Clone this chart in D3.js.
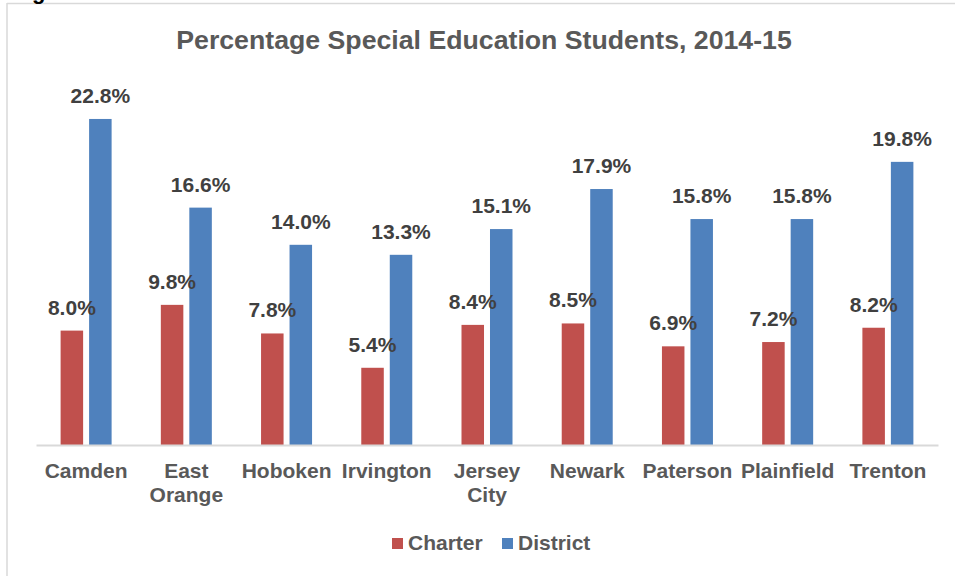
<!DOCTYPE html>
<html>
<head>
<meta charset="utf-8">
<script src="https://cdn.jsdelivr.net/npm/d3@7"></script>
<style>
  html, body { margin: 0; padding: 0; background: #fff; }
  svg { display: block; font-family: "Liberation Sans", Arial, sans-serif; }
</style>
</head>
<body>
<svg id="chart" width="955" height="576"></svg>
<script>
const categories = [["Camden"], ["East", "Orange"], ["Hoboken"], ["Irvington"], ["Jersey", "City"], ["Newark"], ["Paterson"], ["Plainfield"], ["Trenton"]];
const seriesNames = ["Charter", "District"];
const charterValues = [8.0, 9.8, 7.8, 5.4, 8.4, 8.5, 6.9, 7.2, 8.2];
const districtValues = [22.8, 16.6, 14.0, 13.3, 15.1, 17.9, 15.8, 15.8, 19.8];
const seriesColors = ["#C0504D", "#4F81BD"];
const titleText = "Percentage Special Education Students, 2014-15";

const svg = d3.select("#chart");

// frame fragments (cropped figure)
svg.append("line").attr("x1", 7).attr("x2", 955).attr("y1", 3.5).attr("y2", 3.5)
  .attr("stroke", "#D9D9D9").attr("stroke-width", 1.5);
svg.append("line").attr("x1", 7).attr("x2", 7).attr("y1", 3).attr("y2", 576)
  .attr("stroke", "#D9D9D9").attr("stroke-width", 1.5);
svg.append("text").attr("x", 32).attr("y", -1).attr("font-size", 22).attr("font-weight", "bold")
  .attr("fill", "#000").text("g");

// title
svg.append("text").attr("x", 484).attr("y", 49).attr("text-anchor", "middle")
  .attr("font-size", 26.7).attr("font-weight", "bold").attr("fill", "#595959").text(titleText);

const names = categories.map(c => c.join(" "));
const x = d3.scaleBand().domain(names).range([36, 938]).paddingInner(0).paddingOuter(0);
const groupW = 51;
const x1 = d3.scaleBand().domain(seriesNames).range([0, groupW]).paddingInner(0.21).paddingOuter(0);
const y = d3.scaleLinear().domain([0, 25]).range([445, 87.5]);

const data = names.map((n, i) => ({ name: n, lines: categories[i], values: [charterValues[i], districtValues[i]] }));

const groups = svg.append("g").selectAll("g").data(data).join("g")
  .attr("transform", d => `translate(${x(d.name) + (x.bandwidth() - groupW) / 2},0)`);

groups.selectAll("rect").data(d => d.values.map((v, j) => ({ s: seriesNames[j], v, j }))).join("rect")
  .attr("x", d => x1(d.s)).attr("width", x1.bandwidth())
  .attr("y", d => y(d.v)).attr("height", d => y(0) - y(d.v))
  .attr("fill", d => seriesColors[d.j]);

groups.selectAll("text.val").data(d => d.values.map((v, j) => ({ s: seriesNames[j], v, j }))).join("text")
  .attr("class", "val")
  .attr("x", d => x1(d.s) + x1.bandwidth() / 2).attr("y", d => y(d.v) - 16)
  .attr("text-anchor", "middle").attr("font-size", 21).attr("font-weight", "bold")
  .attr("fill", "#404040").text(d => d.v.toFixed(1) + "%");

// axis
const axis = svg.append("g").attr("transform", `translate(0,${y(0)})`)
  .call(d3.axisBottom(x).tickSize(0).tickFormat(""));
axis.select(".domain").attr("stroke", "#D9D9D9").attr("stroke-width", 2);
axis.selectAll(".tick").each(function(d, i) {
  const t = d3.select(this).append("text").attr("fill", "#595959").attr("font-size", 21)
    .attr("font-weight", "bold").attr("text-anchor", "middle");
  data[i].lines.forEach((ln, k) => {
    t.append("tspan").attr("x", 0).attr("y", 33 + k * 24).text(ln);
  });
});

// legend
const legend = svg.append("g");
const legendItems = [{ name: "Charter", x: 392 }, { name: "District", x: 502 }];
legendItems.forEach((it, i) => {
  legend.append("rect").attr("x", it.x).attr("y", 538).attr("width", 11).attr("height", 11)
    .attr("fill", seriesColors[i]);
  legend.append("text").attr("x", it.x + 16).attr("y", 550).attr("font-size", 21)
    .attr("font-weight", "bold").attr("fill", "#595959").text(it.name);
});
</script>
</body>
</html>
